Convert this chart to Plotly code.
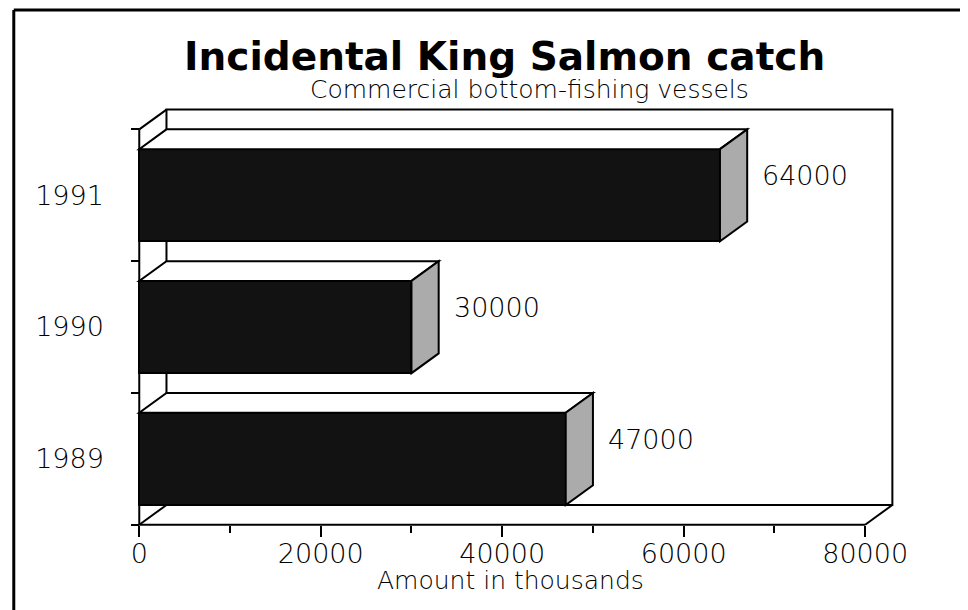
import plotly.graph_objects as go

# ---------------- data ----------------
years = ["1989", "1990", "1991"]
amounts = [47000, 30000, 64000]
x_ticks = [0, 20000, 40000, 60000, 80000]
x_tick_text = ["0", "20000", "40000", "60000", "80000"]
x_minor_ticks = [10000, 30000, 50000, 70000]
title_text = "Incidental King Salmon catch"
subtitle_text = "Commercial bottom-fishing vessels"
x_title_text = "Amount in thousands"

# ---------------- geometry ----------------
OFF = 8                      # page body margin of the html page
W, H = 968 - OFF, 610 - OFF  # figure size
XMAX = 80000
DX = 3000      # 3-D depth along x (data units)
DY = 0.15      # 3-D depth along y (category units)
BAR_W = 0.7
pos = list(range(len(years)))
YLO, YHI = -0.5, len(years) - 0.5

xpad_l, xpad_r = 800, 400
ypad_b, ypad_t = 0.04, 0.05
xr = [-xpad_l, XMAX + DX + xpad_r]
yr = [YLO - ypad_b, YHI + DY + ypad_t]

px_per_x = 0.009075
px_per_y = 132.0
x0_px, y0_px = 139 - OFF, 525 - OFF
ml = x0_px - xpad_l * px_per_x
plot_w = (xr[1] - xr[0]) * px_per_x
mr = W - ml - plot_w
mb = H - (y0_px + ypad_b * px_per_y)
plot_h = (yr[1] - yr[0]) * px_per_y
mt = H - mb - plot_h


def pxx(px):  # screen pixel -> paper x
    return (px - OFF - ml) / plot_w


def pxy(py):  # screen pixel -> paper y
    return (H - mb - (py - OFF)) / plot_h


FONT = "DejaVu Sans"
LINE = dict(color="black", width=2)

fig = go.Figure()

fig.add_trace(go.Bar(
    y=pos, x=amounts, orientation="h", width=BAR_W, base=0,
    marker=dict(color="#121212", line=dict(color="black", width=2)),
    hoverinfo="skip", showlegend=False,
))

shapes = []
# back wall
shapes.append(dict(type="rect", xref="x", yref="y", layer="below",
                   x0=DX, x1=XMAX + DX, y0=YLO + DY, y1=YHI + DY,
                   line=LINE, fillcolor="rgba(0,0,0,0)"))
# front axes & floor/left-wall edges
for (xa, ya, xb, yb) in [
    (0, YLO, 0, YHI),
    (0, YLO, XMAX, YLO),
    (0, YHI, DX, YHI + DY),
    (0, YLO, DX, YLO + DY),
    (XMAX, YLO, XMAX + DX, YLO + DY),
]:
    shapes.append(dict(type="line", xref="x", yref="y", layer="below",
                       x0=xa, y0=ya, x1=xb, y1=yb, line=LINE))

# 3-D faces of bars
for p, v in zip(pos, amounts):
    top = p + BAR_W / 2
    bot = p - BAR_W / 2
    shapes.append(dict(type="path", xref="x", yref="y", layer="above",
                       path=f"M 0,{top} L {v},{top} L {v + DX},{top + DY} L {DX},{top + DY} Z",
                       fillcolor="white", line=LINE))
    shapes.append(dict(type="path", xref="x", yref="y", layer="above",
                       path=f"M {v},{bot} L {v},{top} L {v + DX},{top + DY} L {v + DX},{bot + DY} Z",
                       fillcolor="#ababab", line=LINE))

# page border (left and top)
shapes.append(dict(type="line", xref="paper", yref="paper",
                   x0=pxx(13.5), y0=pxy(9.5), x1=pxx(13.5), y1=pxy(620),
                   line=dict(color="black", width=3)))
shapes.append(dict(type="line", xref="paper", yref="paper",
                   x0=pxx(13.5), y0=pxy(9.5), x1=pxx(980), y1=pxy(9.5),
                   line=dict(color="black", width=3)))

annotations = []
for p, v in zip(pos, amounts):
    annotations.append(dict(x=v + DX, y=p + DY, xref="x", yref="y", text=str(v),
                            xanchor="left", yanchor="middle", xshift=13, showarrow=False,
                            font=dict(family=FONT, size=27, color="black", weight=200)))

annotations.append(dict(x=pxx(504), y=pxy(56), xref="paper", yref="paper",
                        text=f"<b>{title_text}</b>", showarrow=False,
                        xanchor="center", yanchor="middle",
                        font=dict(family=FONT, size=39, color="black")))
annotations.append(dict(x=pxx(529), y=pxy(89), xref="paper", yref="paper",
                        text=subtitle_text, showarrow=False,
                        xanchor="center", yanchor="middle",
                        font=dict(family=FONT, size=25, color="black", weight=200)))
annotations.append(dict(x=pxx(510), y=pxy(581), xref="paper", yref="paper",
                        text=x_title_text, showarrow=False,
                        xanchor="center", yanchor="middle",
                        font=dict(family=FONT, size=25, color="black", weight=200)))

fig.update_layout(
    width=W, height=H,
    margin=dict(l=ml, r=mr, t=mt, b=mb, pad=0),
    paper_bgcolor="white", plot_bgcolor="white",
    shapes=shapes, annotations=annotations,
    bargap=0,
    xaxis=dict(
        range=xr, anchor="free", position=ypad_b / (yr[1] - yr[0]),
        tickmode="array", tickvals=x_ticks, ticktext=x_tick_text,
        ticks="outside", ticklen=11, tickwidth=2, tickcolor="black",
        minor=dict(tickmode="array", tickvals=x_minor_ticks, ticks="outside",
                   ticklen=7, tickwidth=2, tickcolor="black", showgrid=False),
        showgrid=False, zeroline=False, showline=False,
        ticklabelstandoff=-6,
        tickfont=dict(family=FONT, size=27, color="black", weight=200),
        fixedrange=True,
    ),
    yaxis=dict(
        range=yr, anchor="free", position=xpad_l / (xr[1] - xr[0]),
        tickmode="array", tickvals=pos, ticktext=years,
        ticks="outside", ticklen=0, tickcolor="rgba(0,0,0,0)",
        minor=dict(tickmode="array", tickvals=[YLO + k for k in range(len(years) + 1)],
                   ticks="outside", ticklen=8, tickwidth=2, tickcolor="black", showgrid=False),
        showgrid=False, zeroline=False, showline=False,
        ticklabelstandoff=30,
        tickfont=dict(family=FONT, size=27, color="black", weight=200),
        fixedrange=True,
    ),
)

fig.write_html("out.html")
